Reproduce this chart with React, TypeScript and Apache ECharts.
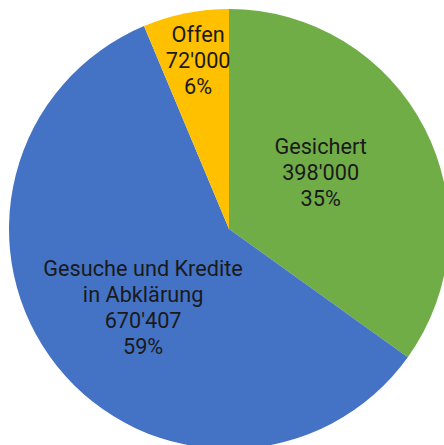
import React, { useEffect, useRef } from "react";
import * as echarts from "echarts";

const categories = ["Gesichert", "Gesuche und Kredite\nin Abklärung", "Offen"];
const values = [398000, 670407, 72000];
const colors = ["#70AD47", "#4472C4", "#FFC000"];
// label placement: fraction of radius and angular shift from slice middle (degrees)
const labelRadiusFraction = [0.49, 0.53, 0.78];
const labelAngleShift = [4.6, 4, -1];

const CX = 229;
const CY = 229;
const R = 220;

function fmt(v: number): string {
  return String(Math.round(v)).replace(/\B(?=(\d{3})+(?!\d))/g, "'");
}

export default function App() {
  const ref = useRef<HTMLDivElement>(null);
  useEffect(() => {
    if (!ref.current) return;
    const chart = echarts.init(ref.current, undefined, { renderer: "svg" });
    const total = values.reduce((a, b) => a + b, 0);
    const mids: number[] = [];
    let acc = 0;
    values.forEach((v) => {
      const span = (v / total) * 360;
      mids.push(90 - acc - span / 2);
      acc += span;
    });
    chart.setOption({
      animation: false,
      backgroundColor: "#ffffff",
      series: [
        {
          type: "pie",
          center: [CX, CY],
          radius: [0, R],
          startAngle: 90,
          clockwise: true,
          silent: true,
          emphasis: { disabled: true },
          itemStyle: { borderWidth: 0 },
          label: {
            show: true,
            position: "inside",
            align: "center",
            verticalAlign: "middle",
            color: "#1a1a1a",
            fontFamily: "Roboto",
            fontSize: 21.7,
            lineHeight: 26,
            formatter: (p: any) =>
              `${p.name}\n${fmt(p.value)}\n${Math.round(p.percent)}%`,
          },
          labelLine: { show: false },
          labelLayout: (p: any) => {
            const i = p.dataIndex;
            const a = ((mids[i] + labelAngleShift[i]) * Math.PI) / 180;
            const f = labelRadiusFraction[i];
            return {
              x: CX + f * R * Math.cos(a),
              y: CY - f * R * Math.sin(a),
              align: "center",
              verticalAlign: "middle",
            };
          },
          data: categories.map((name, i) => ({
            name,
            value: values[i],
            itemStyle: { color: colors[i] },
          })),
        },
      ],
    });
    return () => chart.dispose();
  }, []);
  return (
    <div
      ref={ref}
      style={{ position: "fixed", left: 0, top: 0, width: 444, height: 445 }}
    />
  );
}
